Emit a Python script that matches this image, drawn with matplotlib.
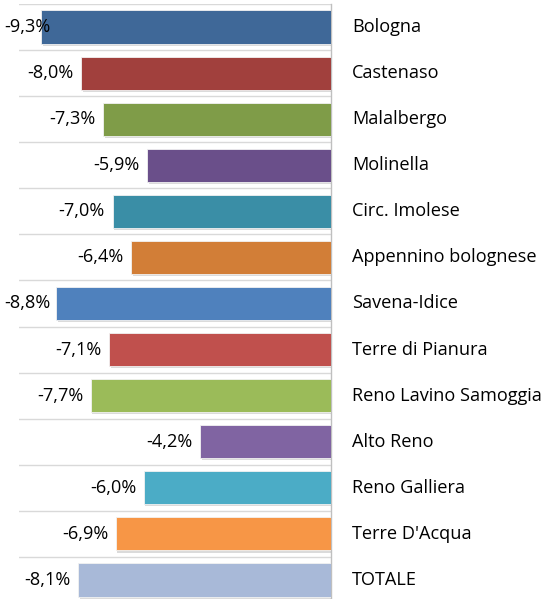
import matplotlib
matplotlib.use("Agg")
import matplotlib.pyplot as plt
import matplotlib.patheffects as pe

categories = ["Bologna", "Castenaso", "Malalbergo", "Molinella", "Circ. Imolese",
              "Appennino bolognese", "Savena-Idice", "Terre di Pianura",
              "Reno Lavino Samoggia", "Alto Reno", "Reno Galliera", "Terre D'Acqua", "TOTALE"]
values = [-9.3, -8.0, -7.3, -5.9, -7.0, -6.4, -8.8, -7.1, -7.7, -4.2, -6.0, -6.9, -8.1]
labels = ["-9,3%", "-8,0%", "-7,3%", "-5,9%", "-7,0%", "-6,4%", "-8,8%", "-7,1%",
          "-7,7%", "-4,2%", "-6,0%", "-6,9%", "-8,1%"]
colors = ["#3F6898", "#A1403D", "#7F9C48", "#6A4F8A", "#3A8EA6", "#D27E37", "#4F81BD",
          "#C0504D", "#9BBB59", "#8064A2", "#4BACC6", "#F79646", "#A8B9D8"]

W, H = 548, 599
fig = plt.figure(figsize=(W / 100, H / 100), dpi=100)
x0, x1 = 19, 331
ytop, ybot = 4, 603
ax = fig.add_axes([x0 / W, (H - ybot) / H, (x1 - x0) / W, (ybot - ytop) / H])

n = len(categories)
ypos = list(range(n))
bars = ax.barh(ypos, values, height=0.72, color=colors, edgecolor="#F2F2F2",
               linewidth=0.6, zorder=3)
for b in bars:
    b.set_path_effects([pe.SimplePatchShadow(offset=(1.2, -1.5), shadow_rgbFace="#999999", alpha=0.35),
                        pe.Normal()])

ax.set_xlim(-10, 0)
ax.set_ylim(n - 0.5, -0.5)
for k in range(n + 1):
    ax.axhline(k - 0.5, color="#D9D9D9", lw=1.0, zorder=1)
for s in ["top", "bottom", "left"]:
    ax.spines[s].set_visible(False)
ax.spines["right"].set_color("#BFBFBF")
ax.spines["right"].set_linewidth(1.0)
ax.set_xticks([])
ax.set_yticks([])

font = "Open Sans"
fs = 13.1
texts = []
for i, (v, lab) in enumerate(zip(values, labels)):
    t = ax.annotate(lab, xy=(v, i), xytext=(-5.5, 0), textcoords="offset points",
                    ha="right", va="center", fontsize=fs, family=font, color="#000000", zorder=5)
    texts.append(t)
    ax.annotate(categories[i], xy=(0, i), xytext=(15, 0), textcoords="offset points",
                ha="left", va="center", fontsize=fs, family=font, color="#000000",
                annotation_clip=False)

fig.canvas.draw()
r = fig.canvas.get_renderer()
for t in texts:
    bb = t.get_window_extent(r)
    if bb.x0 < 4:
        shift = (4 - bb.x0) * 72 / fig.dpi
        xt = t.xyann
        t.xyann = (xt[0] + shift, xt[1])

fig.savefig("out.png", dpi=100)
